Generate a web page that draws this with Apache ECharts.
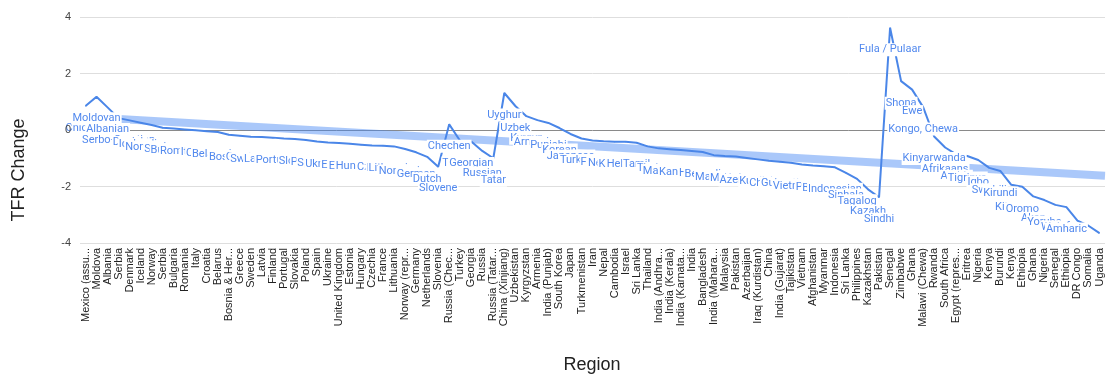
<!DOCTYPE html>
<html>
<head>
<meta charset="utf-8">
<script src="https://cdn.jsdelivr.net/npm/echarts@6/dist/echarts.min.js"></script>
<style>
html,body{margin:0;padding:0;background:#fff;}
#chart{width:1116px;height:385px;}
</style>
</head>
<body>
<div id="chart"></div>
<script>
const categories = [
  "Mexico (assu...","Moldova","Albania","Serbia","Denmark","Iceland","Norway","Serbia","Bulgaria","Romania",
  "Italy","Croatia","Belarus","Bosnia & Her...","Greece","Sweden","Latvia","Finland","Portugal","Slovakia",
  "Poland","Spain","Ukraine","United Kingdom","Estonia","Hungary","Czechia","France","Lithuania","Norway (repr...",
  "Germany","Netherlands","Slovenia","Russia (Chec...","Turkey","Georgia","Russia","Russia (Tatar...","China (Xinjiang)","Uzbekistan",
  "Kyrgyzstan","Armenia","India (Punjab)","South Korea","Japan","Turkmenistan","Iran","Nepal","Cambodia","Israel",
  "Sri Lanka","Thailand","India (Andhra...","India (Kerala)","India (Karnata...","India","Bangladesh","India (Mahara...","Malaysia","Pakistan",
  "Azerbaijan","Iraq (Kurdistan)","China","India (Gujarat)","Tajikistan","Vietnam","Afghanistan","Myanmar","Indonesia","Sri Lanka",
  "Philippines","Kazakhstan","Pakistan","Senegal","Zimbabwe","Ghana","Malawi (Chewa)","Rwanda","South Africa","Egypt (repres...",
  "Eritrea","Nigeria","Kenya","Burundi","Kenya","Ethiopia","Ghana","Nigeria","Senegal","Ethiopia",
  "DR Congo","Somalia","Uganda"
];
const languages = [
  "Chicano","Moldovan","Albanian","Serbo-Croatian","Danish","Icelandic","Norwegian","Serbian","Bulgarian","Romanian",
  "Italian","Croatian","Belarusian","Bosnian","Greek","Swedish","Latvian","Finnish","Portuguese","Slovak",
  "Polish","Spanish","Ukrainian","English","Estonian","Hungarian","Czech","French","Lithuanian","Norwegian",
  "German","Dutch","Slovene","Chechen","Turkish","Georgian","Russian","Tatar","Uyghur","Uzbek",
  "Kyrgyz","Armenian","Punjabi","Korean","Japanese","Turkmen","Farsi","Nepali","Khmer","Hebrew",
  "Tamil","Thai","Telugu","Malayalam","Kannada","Hindi","Bengali","Marathi","Malay","Urdu",
  "Azerbaijani","Kurdish","Chinese","Gujarati","Tajik","Vietnamese","Pashto","Burmese","Indonesian","Sinhala",
  "Tagalog","Kazakh","Sindhi","Fula / Pulaar","Shona","Ewe","Kongo, Chewa","Kinyarwanda","Afrikaans","Arabic",
  "Tigrinya","Igbo","Swahili","Kirundi","Kikuyu","Oromo","Akan","Yoruba","Wolof","Amharic",
  "Lingala","Somali","Luganda"
];
const tfrChange = [
  0.85, 1.18, 0.80, 0.42, 0.34, 0.26, 0.18, 0.08, 0.05, 0.02,
  -0.01, -0.04, -0.07, -0.17, -0.20, -0.24, -0.25, -0.27, -0.30, -0.32,
  -0.35, -0.41, -0.44, -0.46, -0.49, -0.52, -0.55, -0.56, -0.58, -0.67,
  -0.79, -0.95, -1.30, 0.20, -0.39, -0.41, -0.74, -1.00, 1.31, 0.85,
  0.49, 0.35, 0.25, 0.07, -0.14, -0.30, -0.37, -0.40, -0.42, -0.42,
  -0.45, -0.58, -0.65, -0.68, -0.71, -0.74, -0.78, -0.89, -0.92, -0.94,
  -0.99, -1.04, -1.09, -1.12, -1.16, -1.22, -1.26, -1.28, -1.32, -1.52,
  -1.73, -2.10, -2.38, 3.62, 1.73, 1.43, 0.81, -0.23, -0.62, -0.86,
  -0.92, -1.06, -1.34, -1.45, -1.94, -2.01, -2.35, -2.48, -2.65, -2.73,
  -3.21, -3.39, -3.65
];
// linear trendline, read at the left and right edges of the plot
const trendStart = 0.47;
const trendEnd = -1.62;
const yTicks = [-4, -2, 0, 2, 4];

const yMin = yTicks[0], yMax = yTicks[yTicks.length - 1];
const tickStep = yTicks[1] - yTicks[0];
const BLUE = '#4a86e8';

const chart = echarts.init(document.getElementById('chart'), null, {renderer: 'canvas'});
const splitColors = yTicks.map(t => t === 0 ? '#8a8a8a' : '#dedede');
const axisFont = 'Liberation Sans, Arial, sans-serif';

chart.setOption({
  animation: false,
  backgroundColor: '#fff',
  grid: {left: 80, right: 11, top: 17, bottom: 142, containLabel: false},
  xAxis: [{
    type: 'category',
    data: categories,
    boundaryGap: true,
    axisLine: {show: false},
    axisTick: {show: false},
    axisLabel: {interval: 0, rotate: 90, margin: 5, fontSize: 11, color: '#222', fontFamily: axisFont},
    splitLine: {show: false}
  }, {
    type: 'value',
    show: false,
    min: -0.5,
    max: categories.length - 0.5
  }],
  yAxis: [{
    type: 'value',
    min: yMin, max: yMax, interval: tickStep,
    axisLine: {show: false},
    axisTick: {show: false},
    axisLabel: {show: false},
    splitLine: {show: true, lineStyle: {color: splitColors, width: 1}},
    z: 0
  }, {
    type: 'value',
    position: 'left',
    min: yMin, max: yMax, interval: tickStep,
    axisLine: {show: false},
    axisTick: {show: false},
    axisLabel: {fontSize: 11, color: '#444', margin: 9, fontFamily: axisFont},
    splitLine: {show: false},
    z: 20
  }],
  series: [{
    type: 'line',
    xAxisIndex: 1,
    yAxisIndex: 0,
    data: [[-0.5, trendStart], [categories.length - 0.5, trendEnd]],
    symbol: 'none',
    lineStyle: {color: 'rgba(66,133,244,0.45)', width: 8},
    silent: true,
    z: 1
  }, {
    type: 'line',
    xAxisIndex: 0,
    yAxisIndex: 0,
    data: tfrChange.map((v, i) => ({
      value: v,
      name: languages[i],
      label: {show: (v - yMin) * 226 / (yMax - yMin) > 29}
    })),
    symbol: 'circle',
    symbolSize: 1,
    showSymbol: true,
    itemStyle: {color: BLUE},
    lineStyle: {color: BLUE, width: 2},
    label: {
      show: true,
      position: 'inside',
      offset: [0, 22],
      formatter: p => languages[p.dataIndex],
      color: '#5289ee',
      fontSize: 11,
      fontFamily: 'Roboto, sans-serif',
      backgroundColor: '#fff',
      padding: [0, 1],
      lineHeight: 13
    },
    emphasis: {disabled: true},
    silent: true,
    z: 2
  }],
  graphic: [{
    type: 'text',
    x: 19, y: 170,
    rotation: Math.PI / 2,
    style: {text: 'TFR Change', font: '18px "Liberation Sans", Arial, sans-serif', fill: '#222', textAlign: 'center', textVerticalAlign: 'middle'}
  }, {
    type: 'text',
    x: 592, y: 365,
    style: {text: 'Region', font: '18px "Liberation Sans", Arial, sans-serif', fill: '#222', textAlign: 'center', textVerticalAlign: 'middle'}
  }]
});
</script>
</body>
</html>
